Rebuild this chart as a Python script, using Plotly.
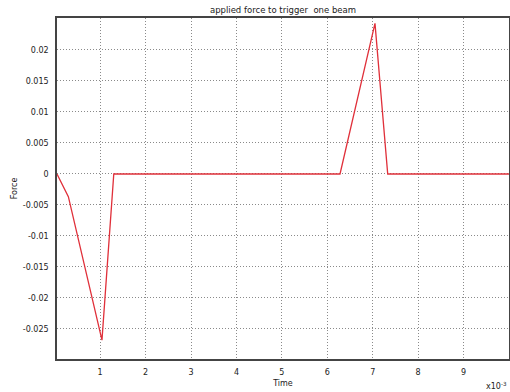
import plotly.graph_objects as go

time = [0.00005, 0.0003, 0.00104, 0.0013, 0.00628, 0.00705, 0.00733, 0.01]
force = [0.0, -0.00366, -0.0268, 0.0, 0.0, 0.0243, 0.0, 0.0]

x_tickvals = [0.001, 0.002, 0.003, 0.004, 0.005, 0.006, 0.007, 0.008, 0.009]
x_ticktext = ["1", "2", "3", "4", "5", "6", "7", "8", "9"]
y_tickvals = [0.02, 0.015, 0.01, 0.005, 0, -0.005, -0.01, -0.015, -0.02, -0.025]
y_ticktext = ["0.02", "0.015", "0.01", "0.005", "0", "-0.005", "-0.01", "-0.015", "-0.02", "-0.025"]

fig = go.Figure()
fig.add_trace(go.Scatter(x=time, y=force, mode="lines",
                         line=dict(color="#e0303a", width=1.3), showlegend=False))

font = dict(family="DejaVu Sans", size=8, color="#222222")
axis_common = dict(showline=True, linecolor="#444444", linewidth=1.5, mirror=True,
                   showgrid=True, gridcolor="#8a8a8a", griddash="1px,2px", gridwidth=1,
                   zeroline=False, ticks="", tickfont=font)

fig.update_layout(
    width=510, height=392,
    margin=dict(l=57, r=1, t=18, b=33, autoexpand=False),
    paper_bgcolor="white", plot_bgcolor="white",
    title=dict(text="applied force to trigger  one beam", x=(57 + 509) / 2 / 510, xanchor="center",
               y=1 - 10 / 392, yanchor="middle", font=dict(family="DejaVu Sans", size=8.5, color="#222222")),
    xaxis=dict(range=[0.00005, 0.01], tickvals=x_tickvals, ticktext=x_ticktext, ticklabelstandoff=5,
               title=dict(text="Time", font=font, standoff=4), **axis_common),
    yaxis=dict(range=[-0.02984, 0.02516], tickvals=y_tickvals, ticktext=y_ticktext, ticklabelstandoff=5,
               title=dict(text="Force", font=font, standoff=4), **axis_common),
)
fig.add_annotation(text="x10<sup>-3</sup>", xref="paper", yref="paper", x=1.0, y=-0.058,
                   xanchor="right", yanchor="top", showarrow=False, font=font)
fig.write_html("out.html", config={"displayModeBar": False},
               post_script="document.body.style.margin='0';document.body.style.overflow='hidden';")
